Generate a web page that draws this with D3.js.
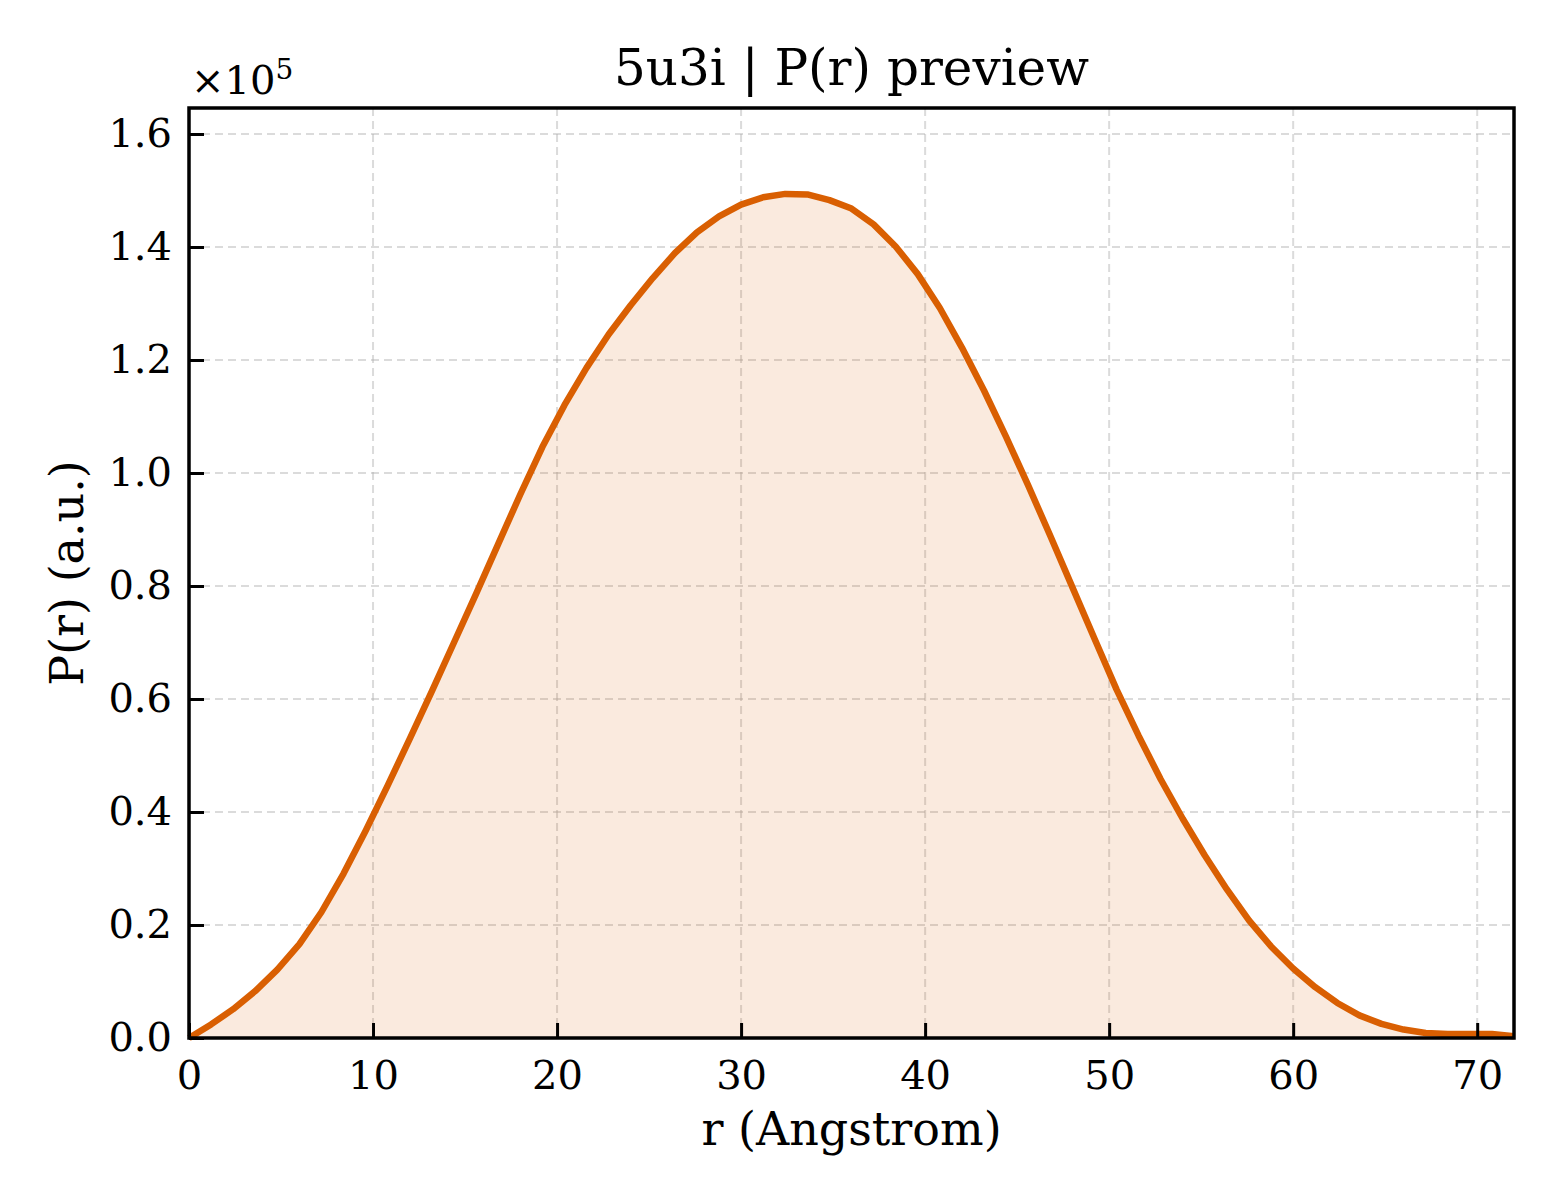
<!DOCTYPE html>
<html>
<head>
<meta charset="utf-8">
<script src="https://cdn.jsdelivr.net/npm/d3@7"></script>
<style>
  body { margin: 0; background: #fff; }
  svg { font-family: "DejaVu Serif", serif; }
</style>
</head>
<body>
<div id="chart"></div>
<script>
// r in Angstrom, P(r) (units of 1e5)
const rValues = [0, 1.2, 2.4, 3.6, 4.8, 6.0, 7.2, 8.4, 9.6, 10.8,
    12.0, 13.2, 14.4, 15.6, 16.8, 18.0, 19.2, 20.4, 21.6, 22.8,
    24.0, 25.2, 26.4, 27.6, 28.8, 30.0, 31.2, 32.4, 33.6, 34.8,
    36.0, 37.2, 38.4, 39.6, 40.8, 42.0, 43.2, 44.4, 45.6, 46.8,
    48.0, 49.2, 50.4, 51.6, 52.8, 54.0, 55.2, 56.4, 57.6, 58.8,
    60.0, 61.2, 62.4, 63.6, 64.8, 66.0, 67.2, 68.4, 69.6, 70.8, 72.0];
const prValues = [0, 0.024, 0.051, 0.083, 0.121, 0.166, 0.223, 0.291, 0.367, 0.447,
    0.530, 0.614, 0.700, 0.786, 0.874, 0.962, 1.046, 1.120, 1.186, 1.245,
    1.297, 1.345, 1.389, 1.426, 1.454, 1.475, 1.488, 1.494, 1.493, 1.483,
    1.468, 1.440, 1.401, 1.352, 1.292, 1.222, 1.146, 1.064, 0.978, 0.889,
    0.798, 0.707, 0.617, 0.535, 0.458, 0.388, 0.323, 0.263, 0.208, 0.162,
    0.123, 0.090, 0.062, 0.040, 0.025, 0.015, 0.009, 0.007, 0.007, 0.007, 0.003].map(v => v * 1e5);

const xTicks = [0, 10, 20, 30, 40, 50, 60, 70];
const yTicks = [0, 0.2, 0.4, 0.6, 0.8, 1.0, 1.2, 1.4, 1.6].map(v => v * 1e5);

const data = rValues.map((r, i) => ({r: r, p: prValues[i]}));

var margin = {top: 108, right: 46, bottom: 162, left: 189},
    width = 1560 - margin.left - margin.right,
    height = 1200 - margin.top - margin.bottom;

var svg = d3.select("#chart")
  .append("svg")
    .attr("width", 1560)
    .attr("height", 1200)
  .append("g")
    .attr("transform", "translate(" + margin.left + "," + margin.top + ")");

var x = d3.scaleLinear().domain([0, 72]).range([0, width]);
var y = d3.scaleLinear().domain([0, 1.646e5]).range([height, 0]);

// grid
svg.append("g").selectAll("line").data(xTicks).join("line")
    .attr("x1", d => x(d)).attr("x2", d => x(d))
    .attr("y1", 0).attr("y2", height)
    .attr("stroke", "#b0b0b0").attr("stroke-opacity", 0.45)
    .attr("stroke-width", 2).attr("stroke-dasharray", "8,5");
svg.append("g").selectAll("line").data(yTicks).join("line")
    .attr("x1", 0).attr("x2", width)
    .attr("y1", d => y(d)).attr("y2", d => y(d))
    .attr("stroke", "#b0b0b0").attr("stroke-opacity", 0.45)
    .attr("stroke-width", 2).attr("stroke-dasharray", "8,5");

// filled area + line
svg.append("path")
    .datum(data)
    .attr("fill", "#d95f02")
    .attr("fill-opacity", 0.13)
    .attr("d", d3.area()
        .x(d => x(d.r))
        .y0(y(0))
        .y1(d => y(d.p)));

svg.append("path")
    .datum(data)
    .attr("fill", "none")
    .attr("stroke", "#d95f02")
    .attr("stroke-width", 6.5)
    .attr("stroke-linejoin", "round")
    .attr("d", d3.line()
        .x(d => x(d.r))
        .y(d => y(d.p)));

// axes, ticks pointing inward
var xAxis = svg.append("g")
    .attr("transform", "translate(0," + height + ")")
    .call(d3.axisBottom(x).tickValues(xTicks).tickSizeInner(-15).tickSizeOuter(0).tickPadding(23));
var yAxis = svg.append("g")
    .call(d3.axisLeft(y).tickValues(yTicks).tickSizeInner(-15).tickSizeOuter(0).tickPadding(17)
        .tickFormat(d => (d / 1e5).toFixed(1)));

[xAxis, yAxis].forEach(a => {
    a.select(".domain").remove();
    a.selectAll(".tick line").attr("stroke", "#000").attr("stroke-width", 3);
    a.selectAll(".tick text").attr("fill", "#000")
        .style("font-family", "DejaVu Serif").style("font-size", "40px");
});

// frame
svg.append("rect")
    .attr("x", 0).attr("y", 0)
    .attr("width", width).attr("height", height)
    .attr("fill", "none").attr("stroke", "#000").attr("stroke-width", 3.5);

// offset text
var off = svg.append("text")
    .attr("x", 2).attr("y", -14)
    .style("font-size", "40px");
off.append("tspan").text("×10");
off.append("tspan").attr("dy", -15).style("font-size", "28px").text("5");

// title and labels
svg.append("text")
    .attr("x", width / 2).attr("y", -23)
    .attr("text-anchor", "middle")
    .style("font-size", "50px")
    .text("5u3i | P(r) preview");

svg.append("text")
    .attr("x", width / 2).attr("y", height + 107)
    .attr("text-anchor", "middle")
    .style("font-size", "46px")
    .text("r (Angstrom)");

svg.append("text")
    .attr("transform", "translate(-106," + (height / 2) + ") rotate(-90)")
    .attr("text-anchor", "middle")
    .style("font-size", "46px")
    .text("P(r) (a.u.)");
</script>
</body>
</html>
